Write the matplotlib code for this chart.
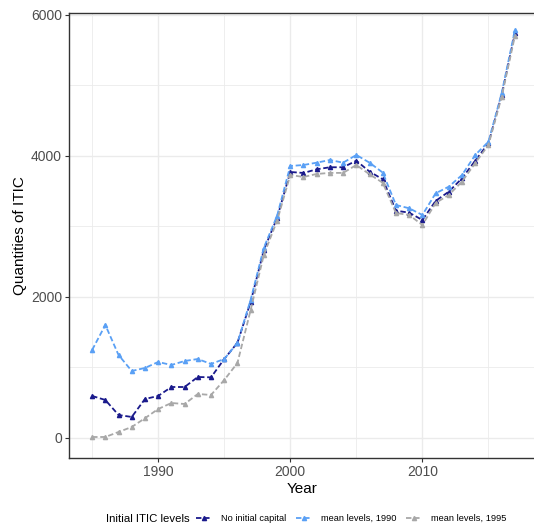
import matplotlib.pyplot as plt
from matplotlib.ticker import MultipleLocator

plt.rcParams['font.family'] = ['Liberation Sans', 'DejaVu Sans']

years = list(range(1985, 2018))

no_initial = [596, 539, 326, 298, 553, 596, 723, 723, 865, 860, 1120, 1350, 1930,
              2667, 3121, 3773, 3759, 3811, 3840, 3840, 3933, 3778, 3669, 3224, 3196,
              3092, 3362, 3494, 3683, 3933, 4180, 4865, 5740]
mean_1990 = [1248, 1603, 1177, 950, 993, 1078, 1035, 1092, 1120, 1050, 1120, 1348, 1960,
             2700, 3150, 3858, 3872, 3905, 3943, 3905, 4014, 3905, 3764, 3305, 3258,
             3163, 3470, 3565, 3730, 4014, 4203, 4890, 5780]
mean_1995 = [14, 14, 85, 156, 280, 411, 496, 482, 624, 610, 822, 1064, 1815,
             2600, 3080, 3730, 3702, 3745, 3760, 3760, 3872, 3740, 3620, 3191, 3163,
             3021, 3333, 3447, 3636, 3900, 4156, 4840, 5700]

series = [("No initial capital", no_initial, "#1a1a8c"),
          ("mean levels, 1990", mean_1990, "#5aa0f5"),
          ("mean levels, 1995", mean_1995, "#a8a8a8")]

fig = plt.figure(figsize=(5.34, 5.32), dpi=100)
ax = fig.add_axes([69 / 534, 74 / 532, (536 - 69) / 534, 445 / 532])

handles = []
for name, vals, col in series:
    h, = ax.plot(years, vals, color=col, linestyle=(0, (3, 1.5)), linewidth=1.3,
                 marker='^', markersize=3, label=name)
    handles.append(h)

ax.set_xlim(1983.25, 2018.6)
ax.set_ylim(-284, 6028)
ax.xaxis.set_major_locator(MultipleLocator(10))
ax.xaxis.set_minor_locator(MultipleLocator(5))
ax.yaxis.set_major_locator(MultipleLocator(2000))
ax.yaxis.set_minor_locator(MultipleLocator(1000))
ax.grid(which='major', color='#ebebeb', linewidth=1.0)
ax.grid(which='minor', color='#ebebeb', linewidth=0.6)
ax.set_axisbelow(True)

for s in ['left', 'bottom', 'top']:
    ax.spines[s].set_color('#333333')
    ax.spines[s].set_linewidth(1.0)
ax.spines['right'].set_visible(False)

ax.tick_params(which='major', direction='out', length=3, width=0.8, color='#333333',
               labelsize=10, labelcolor='#4d4d4d', pad=2)
ax.tick_params(which='minor', length=0)

ax.set_xlabel("Year", fontsize=11, labelpad=2)
ax.set_ylabel("Quantities of ITIC", fontsize=11, labelpad=3)

fig.text(106 / 534, 0.025, "Initial ITIC levels", fontsize=8.2, va='center', ha='left')
fig.legend(handles=handles, loc='center left', bbox_to_anchor=(196 / 534, 0.025),
           ncol=3, frameon=False, fontsize=6.7, handlelength=1.7, handletextpad=1.0,
           columnspacing=1.0, borderpad=0, borderaxespad=0)

fig.savefig("out.png", dpi=100)
